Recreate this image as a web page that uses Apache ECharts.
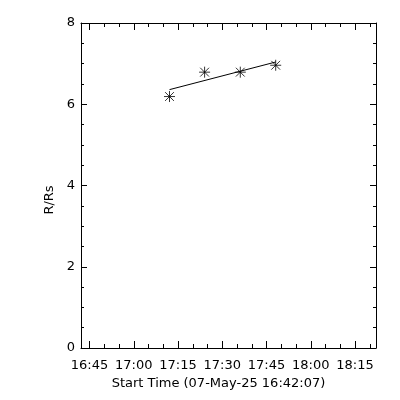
<!DOCTYPE html>
<html>
<head>
<meta charset="utf-8">
<script src="https://cdn.jsdelivr.net/npm/echarts@6/dist/echarts.min.js"></script>
<style>html,body{margin:0;padding:0;background:#fff}#c{width:400px;height:400px}</style>
</head>
<body>
<div id="c"></div>
<script>
// Start time reference: 16:42:07 ; x values are minutes after it
var startLabel = 'Start Time (07-May-25 16:42:07)';
var startClock = '16:42:07';
var xMinMinutes = 0;
var xMaxMinutes = 100;
var xTickLabels = ['16:45', '17:00', '17:15', '17:30', '17:45', '18:00', '18:15'];
var xMinorStepMinutes = 5;
var yTickLabels = [0, 2, 4, 6, 8];
// measurements (minutes after start, R/Rs)
var timeMinutes = [30.0, 41.9, 54.0, 66.0];
var radius = [6.19, 6.79, 6.79, 6.96];
// fitted line end points
var fitMinutes = [30.0, 66.0];
var fitRadius = [6.36, 7.04];

function clockToMin(s) {
  var p = s.split(':').map(Number);
  return p[0] * 60 + p[1] + (p[2] || 0) / 60;
}
var base = clockToMin(startClock);
var majorVals = xTickLabels.map(function (l) { return clockToMin(l) - base; });
var minorVals = [];
for (var v = majorVals[0] + xMinorStepMinutes; v < xMaxMinutes; v += xMinorStepMinutes) {
  var isMajor = majorVals.some(function (m) { return Math.abs(m - v) < 1e-6; });
  if (!isMajor) minorVals.push(v);
}
function fmt(v) {
  var t = Math.round(base + v);
  var h = Math.floor(t / 60), m = t % 60;
  return h + ':' + (m < 10 ? '0' : '') + m;
}

var font = 'DejaVu Sans';
var lineStyle = { color: '#000', width: 1 };
function xAx(pos, len, vals, showLabel, showLine) {
  return {
    type: 'value', position: pos, min: xMinMinutes, max: xMaxMinutes,
    axisLine: { show: showLine, onZero: false, lineStyle: lineStyle },
    splitLine: { show: false },
    axisTick: { show: true, inside: true, length: len, customValues: vals, lineStyle: lineStyle },
    axisLabel: showLabel ? { show: true, customValues: vals, formatter: fmt, color: '#000', fontFamily: font, fontSize: 13, margin: 11 } : { show: false },
    name: showLabel ? startLabel : '',
    nameLocation: 'middle', nameGap: 27,
    nameTextStyle: { color: '#000', fontFamily: font, fontSize: 13, padding: [0, 20, 0, 0] }
  };
}
function yAx(pos, showLabel) {
  return {
    type: 'value', position: pos, min: yTickLabels[0], max: yTickLabels[yTickLabels.length - 1],
    interval: yTickLabels[1] - yTickLabels[0],
    axisLine: { show: true, onZero: false, lineStyle: lineStyle },
    splitLine: { show: false },
    axisTick: { show: true, inside: true, length: 6, lineStyle: lineStyle },
    minorTick: { show: true, splitNumber: 4, length: 3, lineStyle: lineStyle },
    axisLabel: showLabel ? { show: true, color: '#000', fontFamily: font, fontSize: 13, margin: 6 } : { show: false },
    name: showLabel ? 'R/Rs' : '',
    nameLocation: 'middle', nameGap: 19, nameRotate: 90,
    nameTextStyle: { color: '#000', fontFamily: font, fontSize: 13, padding: [0, 29, 0, 0] }
  };
}

var star = 'path://M0,-5L0,5M-5,0L5,0M-4,-4L4,4M-4,4L4,-4';

var chart = echarts.init(document.getElementById('c'), null, { renderer: 'canvas' });
chart.setOption({
  animation: false,
  backgroundColor: '#fff',
  grid: { left: 81, right: 24, top: 23, bottom: 52 },
  xAxis: [
    xAx('bottom', 7, majorVals, true, true),
    xAx('bottom', 4, minorVals, false, false),
    xAx('top', 7, majorVals, false, true),
    xAx('top', 4, minorVals, false, false)
  ],
  yAxis: [yAx('left', true), yAx('right', false)],
  series: [
    {
      type: 'line', xAxisIndex: 0, yAxisIndex: 0,
      data: fitMinutes.map(function (x, i) { return [x, fitRadius[i]]; }),
      symbol: 'none', lineStyle: { color: '#000', width: 1 }
    },
    {
      type: 'scatter', xAxisIndex: 0, yAxisIndex: 0,
      data: timeMinutes.map(function (x, i) { return [x, radius[i]]; }),
      symbol: star, symbolSize: 11,
      itemStyle: { color: 'none', borderColor: '#000', borderWidth: 1 }
    }
  ]
});
</script>
</body>
</html>
